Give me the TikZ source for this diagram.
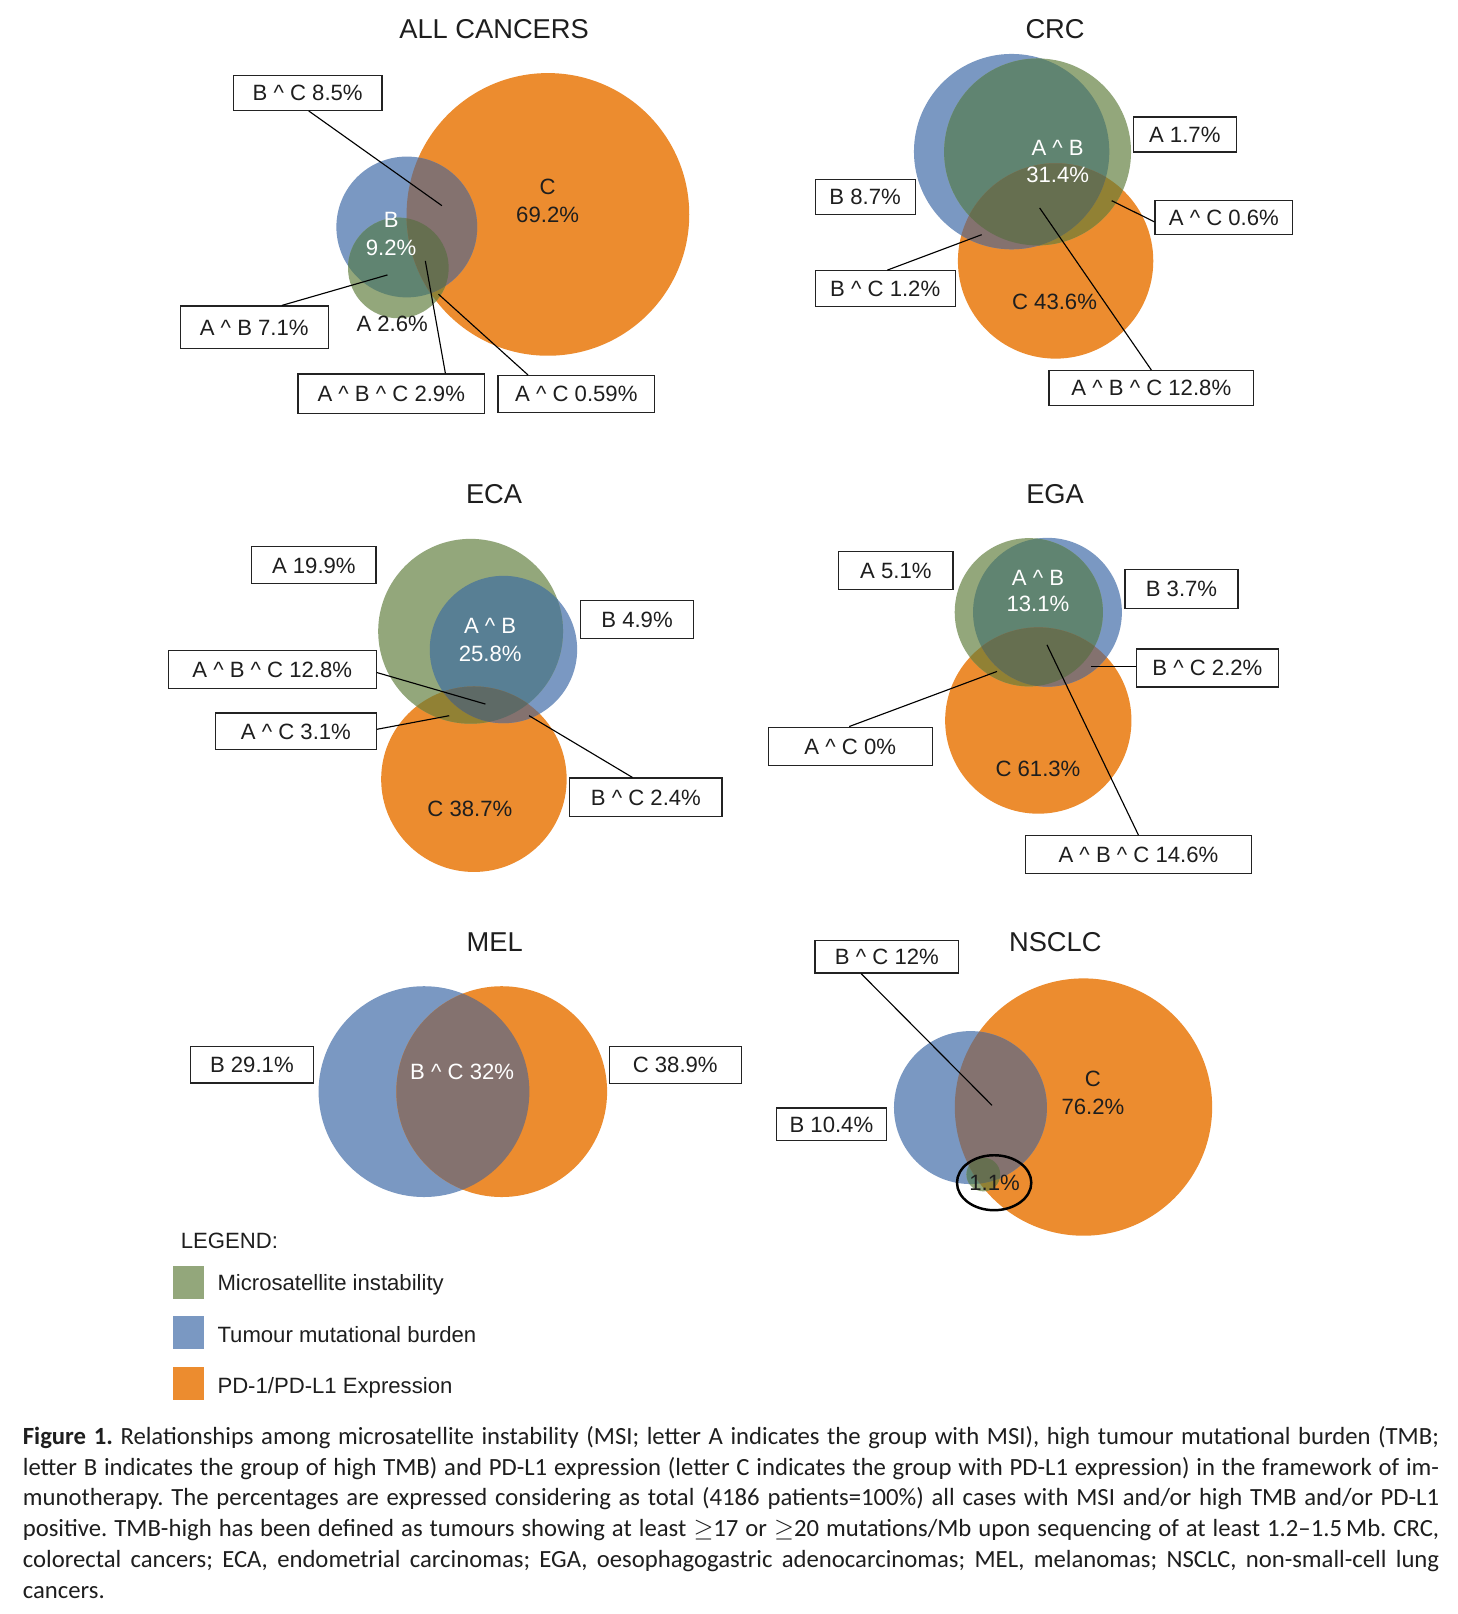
\documentclass[tikz,border=0pt]{standalone}
\usepackage{fontspec}
\setmainfont{Liberation Sans}
\newfontfamily\capfont{Carlito}
\usetikzlibrary{calc}
\definecolor{cA}{RGB}{147,167,123}
\definecolor{cB}{RGB}{122,152,194}
\definecolor{cC}{RGB}{236,140,47}
\definecolor{cAB}{RGB}{96,132,113}
\definecolor{cABe}{RGB}{88,127,148}
\definecolor{cAC}{RGB}{145,129,52}
\definecolor{cBC}{RGB}{132,114,111}
\definecolor{cABC}{RGB}{102,111,80}
\definecolor{cABCe}{RGB}{94,106,102}
\definecolor{txt}{RGB}{30,30,30}
\definecolor{bxline}{RGB}{35,35,35}
\newcommand\crt{\textasciicircum}
\newcommand\lblfont{\fontsize{21.5}{24}\selectfont}
\newcommand\vennthree[2]{%
  \fill[cC] \pC; \fill[cB] \pB; \fill[cA] \pA;
  \begin{scope}\clip \pA; \fill[#1] \pB; \end{scope}
  \begin{scope}\clip \pA; \fill[cAC] \pC; \end{scope}
  \begin{scope}\clip \pB; \fill[cBC] \pC; \end{scope}
  \begin{scope}\clip \pA; \clip \pB; \fill[#2] \pC; \end{scope}}
\newcommand\capline[3]{\node[anchor=base west, inner sep=0pt, text=txt] (#1) at (22,#2) {\capfont\fontsize{24}{30}\selectfont\frenchspacing\hbox to 1376pt{#3}};}
\tikzset{
  bx/.style={draw=bxline, line width=1.15pt, fill=white, inner sep=0pt, font=\lblfont, text=txt, text height=15.4pt, text depth=0pt},
  lab/.style={inner sep=0pt, font=\lblfont, text=txt, text height=15.4pt, text depth=0pt},
  wlab/.style={lab, text=white},
  ttl/.style={inner sep=0pt, font=\fontsize{26.5}{30}\selectfont, text=txt, text height=19pt, text depth=0pt},
  conn/.style={draw=black, line width=1.1pt}
}
\begin{document}
\begin{tikzpicture}[x=1pt,y=-1pt]
\useasboundingbox (0,0) rectangle (1416,1568);
\fill[white] (0,0) rectangle (1416,1568);

% ---------- ALL CANCERS
\def\pA{(387,260.3) circle[radius=48.9]}
\def\pB{(395.2,220.5) circle[radius=68.4]}
\def\pC{(532.3,208.3) circle[radius=137.3]}
\vennthree{cAB}{cABC}
\node[ttl] (tall) at (480,28) {ALL CANCERS};
\node[lab] (l1a) at (532,181.3) {C};
\node[lab] (l1b) at (532,208.8) {69.2\%};
\node[wlab] (l1c) at (380,213.7) {B};
\node[wlab] (l1d) at (380,240.2) {9.2\%};
\node[lab] (l1e) at (381,314.7) {A 2.6\%};
\node[bx, minimum width=144.5, minimum height=34] (b1) at (298.9,90.2) {B \crt{} C 8.5\%};
\node[bx, minimum width=143.8, minimum height=41] (b2) at (247,317.8) {A \crt{} B 7.1\%};
\node[bx, minimum width=181.2, minimum height=38.8] (b3) at (380.1,382.7) {A \crt{} B \crt{} C 2.9\%};
\node[bx, minimum width=152.1, minimum height=36] (b4) at (559.9,382.8) {A \crt{} C 0.59\%};
\coordinate (e1) at (429.3,199.8);
\coordinate (e2) at (376.4,267.1);
\coordinate (e3) at (413.2,253.5);
\coordinate (e4) at (426,285.8);
\draw[conn] ([xshift=1pt]b1.south) -- (e1);
\draw[conn] ([xshift=26.8pt]b2.north) -- (e2);
\draw[conn] ([xshift=52.6pt]b3.north) -- (e3);
\draw[conn] ([xshift=-47pt]b4.north) -- (e4);

% ---------- CRC
\def\pA{(1008,147.6) circle[radius=90.8]}
\def\pB{(982.8,147.3) circle[radius=94.9]}
\def\pC{(1025.5,253.5) circle[radius=94.9]}
\vennthree{cAB}{cABC}
\node[ttl] (tcrc) at (1025,28) {CRC};
\node[wlab] (l2a) at (1027.5,143.7) {A \crt{} B};
\node[wlab] (l2b) at (1027.5,170) {31.4\%};
\node[lab] (l2c) at (1024.5,293) {C 43.6\%};
\node[bx, minimum width=100, minimum height=34] (b5) at (1151,130.6) {A 1.7\%};
\node[bx, minimum width=97, minimum height=34] (b6) at (840.5,191) {B 8.7\%};
\node[bx, minimum width=134, minimum height=33] (b7) at (1189,211.5) {A \crt{} C 0.6\%};
\node[bx, minimum width=136, minimum height=35] (b8) at (860,280.5) {B \crt{} C 1.2\%};
\node[bx, minimum width=199, minimum height=34] (b9) at (1118.5,377) {A \crt{} B \crt{} C 12.8\%};
\coordinate (e5) at (1080,195);
\coordinate (e6) at (953.7,228);
\coordinate (e7) at (1010,202);
\draw[conn] ([yshift=-4pt]b7.west) -- (e5);
\draw[conn] ([xshift=2pt]b8.north) -- (e6);
\draw[conn] (b9.north) -- (e7);

% ---------- ECA
\def\pA{(457.2,613.3) circle[radius=89.8]}
\def\pB{(489.1,631) circle[radius=71.6]}
\def\pC{(460.4,757) circle[radius=90.1]}
\vennthree{cABe}{cABCe}
\node[ttl] (teca) at (480,480) {ECA};
\node[wlab] (l3a) at (476.2,608) {A \crt{} B};
\node[wlab] (l3b) at (476.2,634.5) {25.8\%};
\node[lab] (l3c) at (456.5,786) {C 38.7\%};
\node[bx, minimum width=120.7, minimum height=36.3] (b10) at (304.9,549) {A 19.9\%};
\node[bx, minimum width=109.2, minimum height=37.3] (b11) at (618.9,602) {B 4.9\%};
\node[bx, minimum width=202.3, minimum height=36.3] (b12) at (264.5,650.4) {A \crt{} B \crt{} C 12.8\%};
\node[bx, minimum width=156.3, minimum height=35.7] (b13) at (287.5,710.5) {A \crt{} C 3.1\%};
\node[bx, minimum width=148, minimum height=37.2] (b14) at (627.5,774.5) {B \crt{} C 2.4\%};
\coordinate (e8) at (471.6,684);
\coordinate (e9) at (436.4,695.3);
\coordinate (e10) at (514,695.3);
\draw[conn] ([yshift=-3pt]b12.east) -- (e8);
\draw[conn] ([yshift=2pt]b13.east) -- (e9);
\draw[conn] ([xshift=-13pt]b14.north) -- (e10);

% ---------- EGA
\def\pA{(999.5,594.8) circle[radius=72]}
\def\pB{(1017.6,594.8) circle[radius=72.3]}
\def\pC{(1008.7,700) circle[radius=90.5]}
\vennthree{cAB}{cABC}
\node[ttl] (tega) at (1025,480) {EGA};
\node[wlab] (l4a) at (1008.4,560.7) {A \crt{} B};
\node[wlab] (l4b) at (1008.4,586) {13.1\%};
\node[lab] (l4c) at (1008.4,746.2) {C 61.3\%};
\node[bx, minimum width=111, minimum height=37.2] (b15) at (870.3,554.4) {A 5.1\%};
\node[bx, minimum width=109.7, minimum height=38.2] (b16) at (1147.8,572) {B 3.7\%};
\node[bx, minimum width=138.2, minimum height=36.9] (b17) at (1173,649) {B \crt{} C 2.2\%};
\node[bx, minimum width=159.6, minimum height=37.2] (b18) at (826,725) {A \crt{} C 0\%};
\node[bx, minimum width=219.2, minimum height=36.9] (b19) at (1106,830.3) {A \crt{} B \crt{} C 14.6\%};
\coordinate (e11) at (1060.2,647.4);
\coordinate (e12) at (968.6,652.3);
\coordinate (e13) at (1017.1,626.4);
\draw[conn] ([yshift=1.6pt]b17.west) -- (e11);
\draw[conn] ([xshift=-1pt]b18.north) -- (e12);
\draw[conn] (b19.north) -- (e13);

% ---------- MEL
\def\pB{(411.9,1060.5) circle[radius=102.4]}
\def\pC{(487.4,1060.5) circle[radius=102.4]}
\fill[cB] \pB; \fill[cC] \pC;
\begin{scope}\clip \pB; \fill[cBC] \pC; \end{scope}
\node[ttl] (tmel) at (480.6,914.8) {MEL};
\node[wlab] (l5a) at (449,1040.8) {B \crt{} C 32\%};
\node[bx, minimum width=119, minimum height=35.6] (b20) at (244.7,1034.3) {B 29.1\%};
\node[bx, minimum width=128.3, minimum height=36.2] (b21) at (656,1034.6) {C 38.9\%};

% ---------- NSCLC
\def\pA{(955.3,1141) circle[radius=16.4]}
\def\pB{(942.8,1076) circle[radius=74.3]}
\def\pC{(1052.6,1075.5) circle[radius=125]}
\vennthree{cAB}{cABC}
\node[ttl] (tnsc) at (1025.2,914.5) {NSCLC};
\node[lab] (l6a) at (1061.8,1048.2) {C};
\node[lab] (l6b) at (1061.8,1074.8) {76.2\%};
\draw[line width=2.4pt, black] (965.8,1149) ellipse [x radius=36.1, y radius=26.7];
\node[lab] (l6c) at (966.3,1149.2) {1.1\%};
\node[bx, minimum width=139.6, minimum height=31.8] (b22) at (861.6,929.4) {B \crt{} C 12\%};
\node[bx, minimum width=106.8, minimum height=31.7] (b23) at (807.7,1092.2) {B 10.4\%};
\coordinate (e14) at (963.7,1073.8);
\draw[conn] ([xshift=-25pt]b22.south) -- (e14);

% ---------- Legend
\node[lab, anchor=west] (lg) at (175.5,1205.5) {LEGEND:};
\fill[cA] (167.7,1230.1) rectangle (198.4,1261.9);
\fill[cB] (167.7,1278.7) rectangle (198.4,1310.4);
\fill[cC] (167.7,1327.9) rectangle (198.4,1359.6);
\node[lab, anchor=west] (lg1) at (211.1,1246.3) {Microsatellite instability};
\node[lab, anchor=west] (lg2) at (211.1,1296.5) {Tumour mutational burden};
\node[lab, anchor=west] (lg3) at (211.1,1345.7) {PD-1/PD-L1 Expression};

% ---------- Caption
\capline{c1}{1403}{\textbf{Figure 1.} Relationships among microsatellite instability (MSI; letter A indicates the group with MSI), high tumour mutational burden (TMB;}
\capline{c2}{1433}{letter B indicates the group of high TMB) and PD-L1 expression (letter C indicates the group with PD-L1 expression) in the framework of im-}
\capline{c3}{1463}{munotherapy. The percentages are expressed considering as total (4186 patients=100\%) all cases with MSI and/or high TMB and/or PD-L1}
\capline{c4}{1493}{positive. TMB-high has been defined as tumours showing at least $\geq$17 or $\geq$20 mutations/Mb upon sequencing of at least 1.2–1.5\,Mb. CRC,}
\capline{c5}{1523}{colorectal cancers; ECA, endometrial carcinomas; EGA, oesophagogastric adenocarcinomas; MEL, melanomas; NSCLC, non-small-cell lung}
\node[anchor=base west, inner sep=0pt, text=txt] (c6) at (22,1553) {\capfont\fontsize{24}{30}\selectfont cancers.};
\end{tikzpicture}
\end{document}
